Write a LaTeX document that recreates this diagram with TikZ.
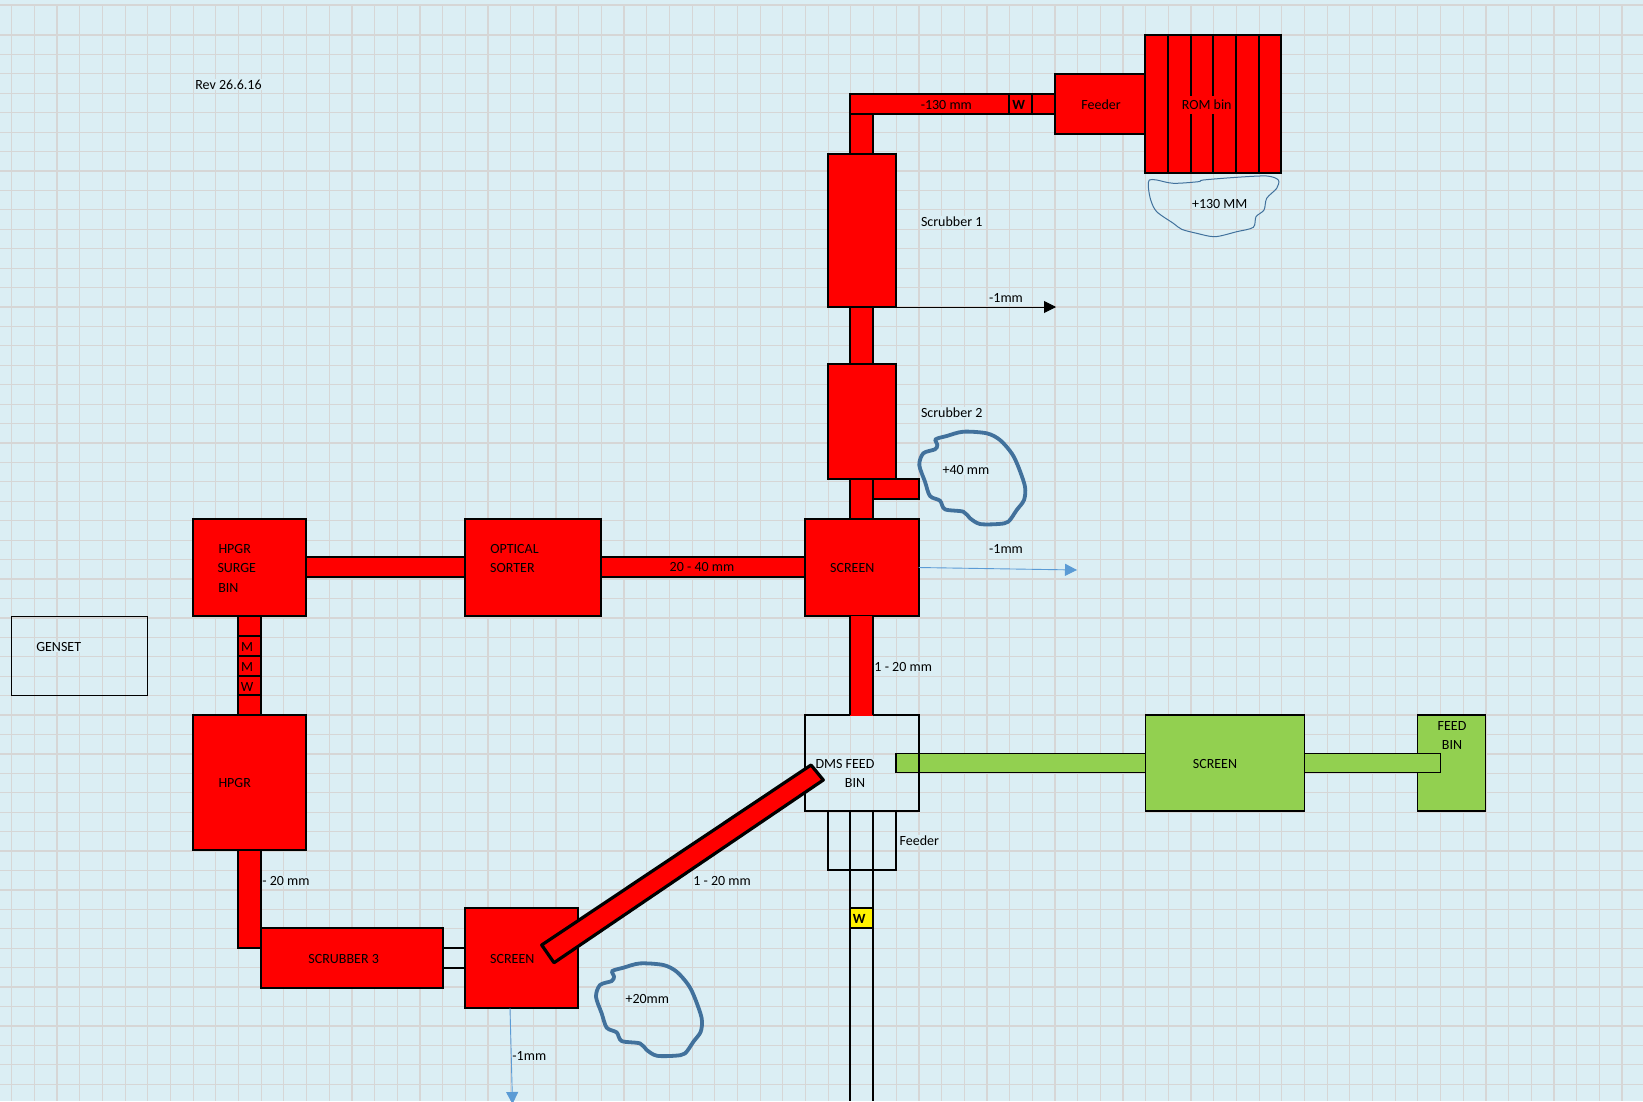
\documentclass[tikz,border=0pt]{standalone}
\usepackage{fontspec}
\setmainfont{Carlito}
\usepackage{xcolor}
\usetikzlibrary{arrows.meta}
\definecolor{sheet}{HTML}{DBEEF4}
\definecolor{gridline}{HTML}{D6D6D6}
\definecolor{greenbox}{HTML}{92D050}
\definecolor{flowblue}{HTML}{5B9BD5}
\definecolor{lumpblue}{HTML}{41719C}
\tikzset{
    wh/.style 2 args={minimum width=#1pt,minimum height=#2pt},
    redbox/.style={draw=black,fill=red,line width=2pt,inner sep=0pt,outer sep=0pt},
    greenblock/.style={draw=black,fill=greenbox,line width=1.3pt,inner sep=0pt,outer sep=0pt},
    plainbox/.style={draw=black,line width=2pt,inner sep=0pt,outer sep=0pt},
    edge/.style={draw=black,line width=2pt},
    txt/.style={inner sep=0.5pt,font=\fontsize{14}{16}\selectfont},
    lbl/.style={txt,fill=sheet},
    flow/.style={draw=flowblue,line width=0.9pt,-{Triangle[length=12pt,width=12pt]}},
    pics/lump/.style={code={
        \draw[lumpblue,line width=#1pt] plot[smooth cycle,tension=0.5] coordinates {
            (935.7,439.3) (946.7,436) (963.3,431.7) (986.7,433.3) (1000,440) (1011.7,453.3)
            (1018.3,466.7) (1025,486.7) (1024,500) (1016.7,510) (1008.3,521.7) (998.3,524)
            (980,524) (970,518.3) (963.3,511.7) (945,509.3) (940,500.7) (930,496) (925,481.7)
            (919.3,465) (923.3,453.3) (935,449.3) (937.3,445)};
    }}
}
\begin{document}
\begin{tikzpicture}[x=1pt,y=-1pt]
    \useasboundingbox (0,0) rectangle (1643,1101);
    \fill[sheet] (0,0) rectangle (1643,1101);
    \foreach \k in {0,...,71}
        \draw[gridline,line width=1.2pt] ({11.7+22.68*\k},5) -- ({11.7+22.68*\k},1101);
    \draw[gridline,line width=1.2pt] (0,5) -- (1643,5);
    \foreach \k in {0,...,54}
        \draw[gridline,line width=1.2pt] (0,{35+19.43*\k}) -- (1643,{35+19.43*\k});

    \node[redbox,wh={136}{138}] (rombin) at (1213,104) {};
    \foreach \xx in {1168,1191,1213,1236.3,1259}
        \draw[edge] (\xx,35) -- (\xx,173);
    \node[redbox,wh={90}{60}] (feederone) at (1100,104) {};
    \node[redbox,wh={68}{153}] (scrubone) at (862,230.5) {};
    \node[redbox,wh={68}{115}] (scrubtwo) at (862,421.5) {};
    \node[redbox,wh={113.5}{97}] (screenone) at (861.75,567.5) {};
    \node[redbox,wh={136}{97}] (sorter) at (533,567.5) {};
    \node[redbox,wh={113}{97}] (surgebin) at (249.5,567.5) {};
    \node[redbox,wh={113}{135}] (hpgr) at (249.5,782.5) {};
    \node[redbox,wh={182}{60}] (scrubthree) at (352,958) {};
    \node[redbox,wh={113}{99.5}] (screentwo) at (521.5,957.75) {};
    \node[greenblock,wh={159}{96}] (greenscreen) at (1225,763) {};
    \node[greenblock,wh={68}{96}] (feedbin) at (1451.5,763) {};
    \node[draw=black,line width=1pt,inner sep=0pt,outer sep=0pt,wh={136}{79}] (genset) at (79.7,656) {};

    \path[redbox] (850,94) rectangle (feederone.west |- 0,114);
    \draw[edge] (1009.3,94) -- (1009.3,114) (1032,94) -- (1032,114);
    \path[redbox] (850,114) rectangle (873,0 |- scrubone.north);
    \path[redbox] (850,0 |- scrubone.south) rectangle (873,0 |- scrubtwo.north);
    \path[redbox] (850,0 |- scrubtwo.south) rectangle (873,0 |- screenone.north);
    \path[redbox] (873,0 |- scrubtwo.south) rectangle (screenone.east |- 0,498.7);
    \path[redbox] (sorter.east |- 0,557) rectangle (screenone.west |- 0,577);
    \path[redbox] (surgebin.east |- 0,557) rectangle (sorter.west |- 0,577);
    \path[redbox] (238.3,0 |- surgebin.south) rectangle (260.7,0 |- hpgr.north);
    \foreach \yy in {636,656,676,695}
        \draw[edge] (238.3,\yy) -- (260.7,\yy);
    \path[redbox] (238.3,0 |- hpgr.south) rectangle (260.7,948);
    \draw[edge] (scrubthree.east |- 0,948) -- (screentwo.west |- 0,948);
    \draw[edge] (scrubthree.east |- 0,968) -- (screentwo.west |- 0,968);

    \path[greenblock] (896,753.3) rectangle (greenscreen.west |- 0,772.3);
    \path[greenblock] (greenscreen.east |- 0,753.3) rectangle (1440.3,772.3);
    \node[plainbox,wh={113.5}{96}] (dmsbin) at (861.75,763) {};
    \fill[red] (850,0 |- screenone.south) rectangle (873,716);
    \draw[edge] (850,0 |- screenone.south) -- (850,715) (873,0 |- screenone.south) -- (873,715);
    \node[plainbox,wh={68}{58.5}] (feederbox) at (862,840.25) {};
    \draw[edge] (850,0 |- dmsbin.south) -- (850,1101);
    \draw[edge] (873,0 |- dmsbin.south) -- (873,1101);
    \node[draw=black,fill=yellow,line width=2pt,inner sep=0pt,outer sep=0pt,wh={23}{19.5}] (wbox) at (861.5,918) {};

    \coordinate (tipone) at (1056,307);
    \coordinate (tiptwo) at (1077,570);
    \coordinate (tipthree) at (512.5,1104);
    \draw[black,line width=0.9pt,-{Triangle[length=12pt,width=12pt]}] (scrubone.south east) -- (tipone);
    \draw[flow] (screenone.east) -- (tiptwo);
    \draw[flow] (screentwo.south |- 0,1008) ++(-11.5,0) -- (tipthree);

    \node[lbl] (revlabel) at (228.5,84.5) {Rev 26.6.16};
    \node[txt] (beltlabel) at (946.3,104.7) {-130 mm};
    \node[txt] (beltw) at (1018.7,104.7) {\textbf{W}};
    \node[txt] (feedertext) at (1101,104.7) {Feeder};
    \node[txt,fill=red,inner sep=0pt,minimum height=18pt] (romlabel) at (1206.7,104.5) {ROM bin};
    \node[lbl] (scrubonelabel) at (951.7,221.7) {Scrubber 1};
    \node[lbl] (fineone) at (1006,297.7) {-1mm};
    \node[lbl] (overone) at (1219.7,203.7) {+130 MM};
    \node[lbl] (scrubtwolabel) at (951.7,412.7) {Scrubber 2};
    \node[lbl] (overtwo) at (966,469.7) {+40 mm};
    \node[lbl] (finetwo) at (1006,549) {-1mm};
    \node[txt] (screenonelabel) at (852.3,567.7) {SCREEN};
    \node[txt] (sizeone) at (702,567) {20 - 40 mm};
    \node[txt] (sorterone) at (514.5,548.5) {OPTICAL};
    \node[txt] (sortertwo) at (512.4,567.9) {SORTER};
    \node[txt] (surgeone) at (234.7,548.5) {HPGR};
    \node[txt] (surgetwo) at (236.8,568) {SURGE};
    \node[txt] (surgethree) at (228.4,587.8) {BIN};
    \node[lbl] (gensetlabel) at (58.7,647) {GENSET};
    \node[txt] (mone) at (247,646.7) {M};
    \node[txt] (mtwo) at (247,666.7) {M};
    \node[txt] (wone) at (247,686.7) {W};
    \node[txt] (hpgrlabel) at (234.7,782.7) {HPGR};
    \node[lbl] (sizetwo) at (286,880.7) {- 20 mm};
    \node[txt] (scrubthreelabel) at (343.7,958.7) {SCRUBBER 3};
    \node[txt] (screentwolabel) at (512.3,958.7) {SCREEN};
    \node[lbl] (finethree) at (529.3,1055.7) {-1mm};
    \node[lbl] (overthree) at (647.3,999) {+20mm};
    \node[lbl] (sizethree) at (903.2,667) {1 - 20 mm};
    \node[lbl] (sizefour) at (722,881) {1 - 20 mm};
    \node[lbl] (dmsone) at (845,763.8) {DMS FEED};
    \node[lbl] (dmstwo) at (855,782.7) {BIN};
    \node[lbl] (feederlabel) at (919.3,840.7) {Feeder};
    \node[txt] (wtwo) at (859.3,918.7) {\textbf{W}};
    \node[txt] (greenscreenlabel) at (1215,763.7) {SCREEN};
    \node[txt] (feedone) at (1452,725.7) {FEED};
    \node[txt] (feedtwo) at (1452,744.7) {BIN};

    \pic at (0,0) {lump=3.8};
    \pic at (-323.3,531.7) {lump=3.8};
    \draw[lumpblue,line width=1pt] plot[smooth cycle,tension=0.5] coordinates {
        (1149.3,180) (1156.7,180) (1173.3,183.3) (1198.3,181.7) (1203.3,180) (1236.7,177.3)
        (1266.7,176) (1278.3,180) (1276.7,188.3) (1266.7,198.3) (1264,210) (1256,216.7)
        (1253.3,227.3) (1236.7,231.7) (1215,236.7) (1196.7,233.3) (1181.7,229.3) (1173.3,223.3)
        (1156.7,211.7) (1150.7,200) (1148.3,186.7)};

    \draw[fill=red,line width=3.2pt,line join=round] (541.7,945) -- (811,765) -- (823.3,780) -- (554,962.7) -- cycle;
\end{tikzpicture}
\end{document}
